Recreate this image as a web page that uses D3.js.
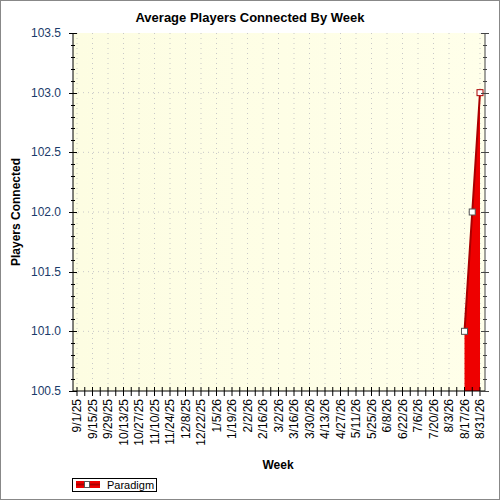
<!DOCTYPE html><html><head><script src="https://cdn.jsdelivr.net/npm/d3@7"></script>
<style>body{margin:0}</style></head><body><svg width="500" height="500"></svg><script>
const weekLabels=["9/1/25","9/15/25","9/29/25","10/13/25","10/27/25","11/10/25","11/24/25","12/8/25","12/22/25","1/5/26","1/19/26","2/2/26","2/16/26","3/2/26","3/16/26","3/30/26","4/13/26","4/27/26","5/11/26","5/25/26","6/8/26","6/22/26","7/6/26","7/20/26","8/3/26","8/17/26","8/31/26"];
const dataWeeks=[50,51,52];
const dataValues=[101,102,103];
const yTicks=[100.5,101.0,101.5,102.0,102.5,103.0,103.5];
const svg=d3.select("svg");
svg.append("rect").attr("x",0.5).attr("y",0.5).attr("width",499).attr("height",499).attr("fill","#fff").attr("stroke","#888");
const L=73,R=485,T=33,B=391;
const x=d3.scaleLinear().domain([0,52]).range([77,480]);
const y=d3.scaleLinear().domain([100.5,103.5]).range([B,T]);
const g=svg.append("defs").append("linearGradient").attr("id","bg").attr("x1",0).attr("x2",1).attr("y1",0).attr("y2",0);
g.append("stop").attr("offset",0).attr("stop-color","#fdfde2");
g.append("stop").attr("offset",1).attr("stop-color","#ffffea");
svg.append("rect").attr("x",L).attr("y",T).attr("width",R-L).attr("height",B-T).attr("fill","url(#bg)");
const grid=svg.append("g").attr("stroke","#c8c8c8").attr("stroke-dasharray","1,4");
yTicks.slice(1,-1).forEach(v=>grid.append("line").attr("x1",L).attr("x2",R).attr("y1",y(v)).attr("y2",y(v)));
weekLabels.forEach((l,i)=>grid.append("line").attr("x1",x(i*2)).attr("x2",x(i*2)).attr("y1",T).attr("y2",B));
const pts=dataWeeks.map((w,i)=>[w,dataValues[i]]);
svg.append("path").datum(pts).attr("fill","#ee0000").attr("d",d3.area().x(d=>x(d[0])).y0(B).y1(d=>y(d[1])));
svg.append("path").datum(pts).attr("fill","none").attr("stroke","#aa0000").attr("stroke-width",2).attr("d",d3.line().x(d=>x(d[0])).y(d=>y(d[1])));
svg.selectAll(".m").data(pts).join("rect").attr("x",d=>x(d[0])-3).attr("y",d=>y(d[1])-3).attr("width",6).attr("height",6).attr("fill","#fff").attr("stroke",(d,i)=>i==2?"#aa0000":"#555");
// axes
const ax=svg.append("g").attr("stroke","#000");
ax.append("line").attr("x1",L).attr("x2",L).attr("y1",T).attr("y2",B);
ax.append("line").attr("x1",R).attr("x2",R).attr("y1",T).attr("y2",B).attr("stroke","#444");
ax.append("line").attr("x1",L).attr("x2",R).attr("y1",B).attr("y2",B);
d3.range(0,31).forEach(i=>{const v=100.5+i*0.1,yy=Math.round(y(v))+0.5,maj=i%5==0;
 ax.append("line").attr("x1",L-(maj?4:2)).attr("x2",L+(maj?4:2)).attr("y1",yy).attr("y2",yy);
 ax.append("line").attr("x1",R-(maj?4:2)).attr("x2",R+(maj?4:2)).attr("y1",yy).attr("y2",yy).attr("stroke","#444");});
d3.range(0,53).forEach(w=>ax.append("line").attr("x1",x(w)).attr("x2",x(w)).attr("y1",B-4).attr("y2",B+5));
svg.selectAll(".yl").data(yTicks).join("text").attr("x",L-12).attr("y",d=>y(d)+4).attr("text-anchor","end").attr("font-family","Liberation Sans, Arial").attr("font-size",12).attr("fill","#1a3a6a").text(d=>d.toFixed(1));
svg.selectAll(".xl").data(weekLabels).join("text").attr("transform",(d,i)=>`translate(${x(i*2)+4},${B+8}) rotate(-90)`).attr("text-anchor","end").attr("font-family","Liberation Sans, Arial").attr("font-size",12).attr("fill","#000").text(d=>d);
svg.append("text").attr("x",250).attr("y",22).attr("text-anchor","middle").attr("font-family","Liberation Sans, Arial").attr("font-weight","bold").attr("font-size",13).text("Average Players Connected By Week");
svg.append("text").attr("x",278).attr("y",469).attr("text-anchor","middle").attr("font-family","Liberation Sans, Arial").attr("font-weight","bold").attr("font-size",12).text("Week");
svg.append("text").attr("transform","translate(20,212) rotate(-90)").attr("text-anchor","middle").attr("font-family","Liberation Sans, Arial").attr("font-weight","bold").attr("font-size",12).text("Players Connected");
const lg=svg.append("g");
lg.append("rect").attr("x",72.5).attr("y",478.5).attr("width",84).attr("height",13).attr("fill","#fff").attr("stroke","#000");
lg.append("rect").attr("x",76).attr("y",481).attr("width",24).attr("height",7).attr("fill","#ee0000");
lg.append("line").attr("x1",76).attr("x2",100).attr("y1",484.5).attr("y2",484.5).attr("stroke","#aa0000").attr("stroke-width",2);
lg.append("rect").attr("x",84.5).attr("y",481.5).attr("width",5).attr("height",6).attr("fill","#fff").attr("stroke","#555");
lg.append("text").attr("x",107).attr("y",489).attr("font-family","Liberation Sans, Arial").attr("font-size",11).text("Paradigm");
</script></body></html>
